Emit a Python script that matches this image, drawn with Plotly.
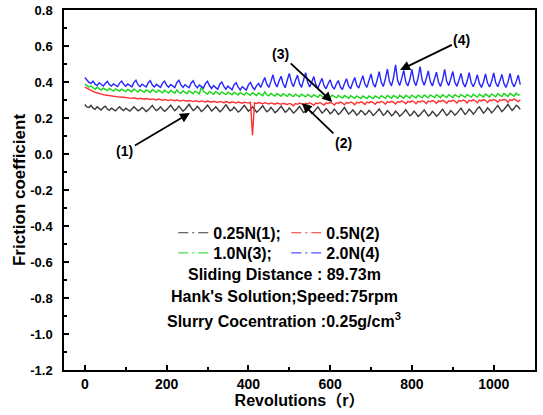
import numpy as np
import plotly.graph_objects as go

# Friction coefficient readings, one every 5 revolutions (0 .. 1065 r)
step_rev = 5

cof_025N = [
    0.275, 0.262, 0.258, 0.270, 0.255, 0.248, 0.262, 0.251, 0.244, 0.258, 0.266, 0.250, 0.243, 0.255, 0.247, 0.240, 0.252, 0.262, 0.249, 0.241,
    0.255, 0.247, 0.238, 0.250, 0.262, 0.251, 0.240, 0.246, 0.258, 0.249, 0.236, 0.245, 0.257, 0.270, 0.252, 0.241, 0.249, 0.262, 0.248, 0.237,
    0.246, 0.259, 0.272, 0.255, 0.240, 0.251, 0.266, 0.252, 0.238, 0.247, 0.263, 0.276, 0.258, 0.242, 0.250, 0.265, 0.253, 0.236, 0.244, 0.258,
    0.271, 0.256, 0.239, 0.248, 0.262, 0.250, 0.235, 0.243, 0.260, 0.274, 0.257, 0.240, 0.246, 0.261, 0.248, 0.233, 0.242, 0.259, 0.270, 0.254,
    0.238, 0.247, 0.262, 0.249, 0.232, 0.241, 0.258, 0.268, 0.251, 0.235, 0.243, 0.259, 0.246, 0.229, 0.238, 0.255, 0.266, 0.249, 0.232, 0.240,
    0.256, 0.244, 0.228, 0.236, 0.253, 0.264, 0.247, 0.230, 0.238, 0.254, 0.241, 0.225, 0.234, 0.251, 0.262, 0.245, 0.228, 0.236, 0.252, 0.240,
    0.224, 0.232, 0.249, 0.237, 0.220, 0.229, 0.246, 0.258, 0.240, 0.222, 0.230, 0.245, 0.233, 0.216, 0.225, 0.242, 0.234, 0.218, 0.226, 0.243,
    0.231, 0.214, 0.223, 0.240, 0.250, 0.233, 0.215, 0.224, 0.241, 0.229, 0.212, 0.221, 0.238, 0.227, 0.210, 0.219, 0.236, 0.246, 0.229, 0.212,
    0.221, 0.238, 0.226, 0.209, 0.218, 0.235, 0.245, 0.228, 0.211, 0.220, 0.237, 0.225, 0.210, 0.220, 0.238, 0.249, 0.231, 0.214, 0.224, 0.241,
    0.230, 0.215, 0.226, 0.244, 0.255, 0.237, 0.220, 0.231, 0.249, 0.238, 0.222, 0.234, 0.252, 0.262, 0.244, 0.227, 0.238, 0.256, 0.245, 0.229,
    0.241, 0.259, 0.270, 0.252, 0.235, 0.247, 0.265, 0.276, 0.258, 0.242, 0.254, 0.271, 0.262, 0.248,
]

cof_05N = [
    0.372, 0.365, 0.358, 0.352, 0.348, 0.343, 0.339, 0.336, 0.333, 0.330, 0.328, 0.326, 0.325, 0.322, 0.321, 0.319, 0.318, 0.316, 0.317, 0.315,
    0.313, 0.315, 0.311, 0.309, 0.312, 0.308, 0.306, 0.310, 0.307, 0.304, 0.308, 0.305, 0.303, 0.306, 0.302, 0.300, 0.305, 0.301, 0.299, 0.303,
    0.300, 0.297, 0.302, 0.298, 0.296, 0.300, 0.297, 0.294, 0.299, 0.295, 0.293, 0.297, 0.294, 0.291, 0.296, 0.293, 0.290, 0.295, 0.291, 0.289,
    0.294, 0.290, 0.288, 0.293, 0.289, 0.286, 0.292, 0.288, 0.285, 0.291, 0.287, 0.284, 0.290, 0.286, 0.283, 0.289, 0.285, 0.282, 0.288, 0.284,
    0.283, 0.287, 0.105, 0.284, 0.281, 0.286, 0.282, 0.279, 0.285, 0.281, 0.278, 0.284, 0.280, 0.277, 0.283, 0.279, 0.276, 0.282, 0.278, 0.275,
    0.281, 0.277, 0.268, 0.280, 0.276, 0.283, 0.279, 0.270, 0.282, 0.278, 0.285, 0.280, 0.271, 0.283, 0.279, 0.286, 0.281, 0.272, 0.284, 0.280,
    0.287, 0.282, 0.272, 0.285, 0.281, 0.288, 0.283, 0.273, 0.286, 0.282, 0.289, 0.284, 0.274, 0.287, 0.283, 0.290, 0.285, 0.275, 0.288, 0.284,
    0.291, 0.286, 0.276, 0.289, 0.285, 0.292, 0.287, 0.277, 0.290, 0.286, 0.293, 0.288, 0.278, 0.291, 0.287, 0.294, 0.289, 0.279, 0.292, 0.288,
    0.295, 0.290, 0.279, 0.293, 0.289, 0.296, 0.291, 0.280, 0.294, 0.290, 0.297, 0.292, 0.281, 0.295, 0.291, 0.298, 0.293, 0.282, 0.296, 0.292,
    0.299, 0.294, 0.283, 0.297, 0.293, 0.300, 0.295, 0.284, 0.298, 0.294, 0.301, 0.296, 0.285, 0.299, 0.295, 0.302, 0.297, 0.286, 0.300, 0.296,
    0.303, 0.298, 0.287, 0.301, 0.297, 0.304, 0.299, 0.288, 0.302, 0.298, 0.305, 0.300, 0.290, 0.302,
]

cof_10N = [
    0.388, 0.380, 0.372, 0.378, 0.366, 0.360, 0.371, 0.362, 0.355, 0.366, 0.358, 0.352, 0.364, 0.356, 0.350, 0.362, 0.354, 0.349, 0.360, 0.352,
    0.347, 0.359, 0.351, 0.346, 0.361, 0.350, 0.344, 0.357, 0.349, 0.343, 0.356, 0.348, 0.342, 0.358, 0.347, 0.341, 0.355, 0.346, 0.340, 0.354,
    0.345, 0.339, 0.353, 0.344, 0.338, 0.356, 0.343, 0.337, 0.351, 0.342, 0.336, 0.350, 0.341, 0.335, 0.349, 0.340, 0.334, 0.372, 0.348, 0.339,
    0.333, 0.347, 0.338, 0.332, 0.346, 0.337, 0.331, 0.345, 0.336, 0.330, 0.344, 0.335, 0.329, 0.343, 0.334, 0.328, 0.342, 0.333, 0.327, 0.341,
    0.332, 0.326, 0.340, 0.331, 0.325, 0.339, 0.330, 0.324, 0.345, 0.329, 0.323, 0.337, 0.328, 0.322, 0.336, 0.327, 0.321, 0.335, 0.326, 0.320,
    0.334, 0.325, 0.319, 0.333, 0.324, 0.318, 0.332, 0.323, 0.317, 0.331, 0.322, 0.316, 0.330, 0.321, 0.315, 0.329, 0.320, 0.314, 0.328, 0.319,
    0.313, 0.327, 0.318, 0.312, 0.326, 0.317, 0.311, 0.325, 0.316, 0.310, 0.324, 0.315, 0.309, 0.323, 0.314, 0.308, 0.322, 0.313, 0.308, 0.322,
    0.313, 0.308, 0.323, 0.314, 0.309, 0.324, 0.314, 0.309, 0.325, 0.315, 0.310, 0.325, 0.315, 0.310, 0.326, 0.316, 0.310, 0.326, 0.316, 0.311,
    0.327, 0.317, 0.311, 0.327, 0.317, 0.312, 0.328, 0.318, 0.312, 0.328, 0.318, 0.313, 0.329, 0.319, 0.313, 0.329, 0.319, 0.314, 0.330, 0.320,
    0.314, 0.330, 0.320, 0.315, 0.331, 0.321, 0.315, 0.331, 0.321, 0.316, 0.332, 0.322, 0.316, 0.332, 0.322, 0.317, 0.333, 0.323, 0.317, 0.334,
    0.324, 0.318, 0.335, 0.325, 0.319, 0.336, 0.326, 0.320, 0.337, 0.327, 0.321, 0.338, 0.328, 0.330,
]

cof_20N = [
    0.425, 0.410, 0.398, 0.392, 0.405, 0.388, 0.380, 0.396, 0.384, 0.378, 0.392, 0.403, 0.386, 0.377, 0.390, 0.381, 0.375, 0.394, 0.405, 0.387,
    0.376, 0.389, 0.380, 0.373, 0.398, 0.410, 0.385, 0.374, 0.388, 0.379, 0.372, 0.396, 0.407, 0.383, 0.372, 0.387, 0.378, 0.370, 0.394, 0.405,
    0.382, 0.371, 0.386, 0.377, 0.369, 0.397, 0.410, 0.384, 0.370, 0.385, 0.376, 0.368, 0.395, 0.407, 0.381, 0.367, 0.383, 0.374, 0.366, 0.392,
    0.404, 0.379, 0.364, 0.380, 0.370, 0.360, 0.388, 0.400, 0.375, 0.360, 0.377, 0.366, 0.357, 0.385, 0.396, 0.371, 0.356, 0.374, 0.364, 0.355,
    0.384, 0.398, 0.372, 0.358, 0.380, 0.392, 0.370, 0.395, 0.425, 0.388, 0.370, 0.402, 0.440, 0.395, 0.372, 0.405, 0.432, 0.390, 0.368, 0.410,
    0.448, 0.400, 0.374, 0.408, 0.438, 0.392, 0.370, 0.412, 0.452, 0.398, 0.372, 0.400, 0.430, 0.385, 0.365, 0.395, 0.420, 0.380, 0.362, 0.390,
    0.412, 0.375, 0.360, 0.388, 0.408, 0.372, 0.358, 0.392, 0.418, 0.378, 0.362, 0.396, 0.425, 0.382, 0.366, 0.402, 0.435, 0.388, 0.370, 0.408,
    0.445, 0.392, 0.372, 0.412, 0.458, 0.398, 0.375, 0.418, 0.472, 0.402, 0.378, 0.425, 0.495, 0.408, 0.380, 0.420, 0.465, 0.400, 0.378, 0.415,
    0.470, 0.405, 0.380, 0.422, 0.485, 0.410, 0.382, 0.418, 0.462, 0.402, 0.378, 0.415, 0.455, 0.398, 0.376, 0.412, 0.470, 0.404, 0.380, 0.418,
    0.458, 0.398, 0.376, 0.410, 0.448, 0.395, 0.372, 0.405, 0.452, 0.396, 0.374, 0.402, 0.440, 0.392, 0.370, 0.400, 0.445, 0.394, 0.372, 0.404,
    0.450, 0.396, 0.374, 0.405, 0.442, 0.392, 0.370, 0.400, 0.448, 0.395, 0.373, 0.402, 0.438, 0.385,
]

series_names = ["0.25N(1);", "0.5N(2)", "1.0N(3);", "2.0N(4)"]
series_values = [cof_025N, cof_05N, cof_10N, cof_20N]
series_colors = ["#3a3a3a", "#ff3030", "#19d419", "#2525ff"]
series_legend = ["legend", "legend", "legend2", "legend2"]

x_tickvals = [0, 200, 400, 600, 800, 1000]
y_tickvals = [0.8, 0.6, 0.4, 0.2, 0.0, -0.2, -0.4, -0.6, -0.8, -1.0, -1.2]
y_ticktext = ["0.8", "0.6", "0.4", "0.2", "0.0", "-0.2", "-0.4", "-0.6", "-0.8", "-1.0", "-1.2"]

# curve labels: (text, arrow head rev, arrow head value, label rev, label value)
curve_labels = [
    ("(1)", 257, 0.228, 98, 0.015),
    ("(2)", 531, 0.283, 632, 0.062),
    ("(3)", 605, 0.289, 479, 0.555),
    ("(4)", 771, 0.467, 922, 0.633),
]

info_lines = [
    "Sliding Distance : 89.73m",
    "Hank's Solution;Speed:75rpm",
    "Slurry Cocentration :0.25g/cm<sup>3</sup>",
]

FONT = "Liberation Sans, Arial, Noto Sans CJK SC, sans-serif"

fig = go.Figure()
for name, vals, col in zip(series_names, series_values, series_colors):
    xs = np.arange(len(vals)) * step_rev
    fig.add_trace(go.Scatter(x=xs, y=vals, mode="lines", line=dict(color=col, width=1.4),
                             showlegend=False, hoverinfo="skip"))
# legend-only entries with dash-dot keys
for name, col, lg in zip(series_names, series_colors, series_legend):
    fig.add_trace(go.Scatter(x=[None], y=[None], mode="lines", name=name, legend=lg,
                             line=dict(color=col, width=1, dash="10px,4px,2px,4px")))

for txt, hx, hy, tx, ty in curve_labels:
    fig.add_annotation(x=hx, y=hy, ax=tx, ay=ty, axref="x", ayref="y", xref="x", yref="y",
                       text=txt, showarrow=True, arrowhead=2, arrowsize=1.1, arrowwidth=1.8,
                       arrowcolor="black", font=dict(family=FONT, size=14, color="black", weight="bold"))

info_y = [0.264, 0.203, 0.139]
for txt, yy in zip(info_lines, info_y):
    fig.add_annotation(x=0.468, y=yy, xref="paper", yref="paper", text=txt, showarrow=False,
                       xanchor="center", yanchor="middle",
                       font=dict(family=FONT, size=16, color="black", weight="bold"))

leg_common = dict(orientation="h", xanchor="left", yanchor="middle", entrywidth=68,
                  entrywidthmode="pixels", bgcolor="rgba(0,0,0,0)", itemwidth=30,
                  font=dict(family=FONT, size=16, color="black", weight="bold"),
                  tracegroupgap=0)

fig.update_layout(
    width=543, height=415,
    margin=dict(l=64, r=8, t=10, b=45, autoexpand=False),
    paper_bgcolor="white", plot_bgcolor="white",
    font=dict(family=FONT, color="black"),
    legend=dict(x=0.232, y=0.381, **leg_common),
    legend2=dict(x=0.232, y=0.325, **leg_common),
    xaxis=dict(range=[-51, 1101], tickvals=x_tickvals, ticks="inside", ticklen=5, tickwidth=1.5,
               tickcolor="black", minor=dict(dtick=100, ticks="inside", ticklen=3, tickwidth=1.5, tickcolor="black"),
               showline=True, linewidth=1.5, linecolor="black", mirror=True,
               showgrid=False, zeroline=False, automargin=False,
               tickfont=dict(family=FONT, size=14, color="black", weight="bold"),
               title=dict(text="Revolutions（r）", standoff=1,
                          font=dict(family=FONT, size=16, color="black", weight="bold"))),
    yaxis=dict(range=[-1.2, 0.8], tickvals=y_tickvals, ticktext=y_ticktext, ticks="inside",
               ticklen=5, tickwidth=1.5, tickcolor="black", ticklabelstandoff=7,
               minor=dict(dtick=0.1, tick0=0, ticks="inside", ticklen=3, tickwidth=1.5, tickcolor="black"),
               showline=True, linewidth=1.5, linecolor="black", mirror=True,
               showgrid=False, zeroline=False, automargin=False,
               tickfont=dict(family=FONT, size=13, color="black", weight="bold"),
               title=dict(text="Friction coefficient", standoff=0,
                          font=dict(family=FONT, size=17, color="black", weight="bold"))),
)

fig.write_html("out.html", post_script="document.body.style.margin='0px';",
               config={"displayModeBar": False})
